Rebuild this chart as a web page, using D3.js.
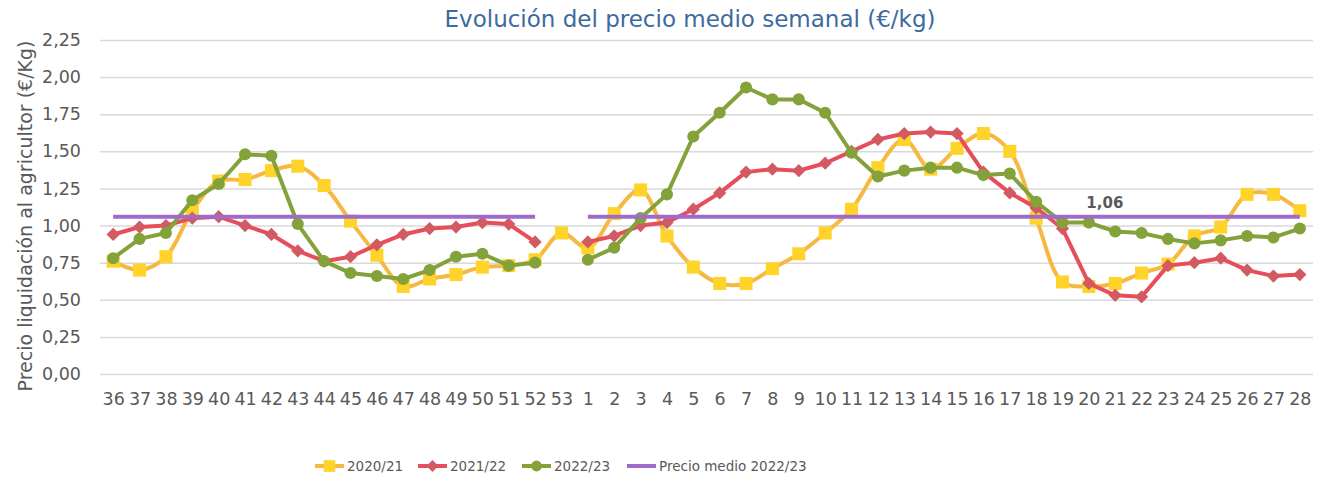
<!DOCTYPE html>
<html>
<head>
<meta charset="utf-8">
<script src="https://cdn.jsdelivr.net/npm/d3@7"></script>
<style>
  body { margin: 0; background: #fff; }
  text { font-family: "DejaVu Sans", sans-serif; }
</style>
</head>
<body>
<script>
var weeks = ["36","37","38","39","40","41","42","43","44","45","46","47","48","49","50","51","52","53",
    "1","2","3","4","5","6","7","8","9","10","11","12","13","14","15","16","17","18","19","20","21","22","23","24","25","26","27","28"];

var s2020 = [0.76,0.70,0.79,1.10,1.30,1.31,1.37,1.40,1.27,1.03,0.80,0.59,0.64,0.67,0.72,0.73,0.77,0.95,
    0.85,1.08,1.24,0.93,0.72,0.61,0.61,0.71,0.81,0.95,1.11,1.39,1.58,1.38,1.52,1.62,1.50,1.05,0.62,0.59,0.61,0.68,0.74,0.93,0.99,1.21,1.21,1.10];

var s2021 = [0.94,0.99,1.00,1.05,1.06,1.00,0.94,0.83,0.76,0.79,0.87,0.94,0.98,0.99,1.02,1.01,0.89,null,
    0.89,0.93,1.00,1.02,1.11,1.22,1.36,1.38,1.37,1.42,1.50,1.58,1.62,1.63,1.62,1.36,1.22,1.12,0.98,0.61,0.53,0.52,0.73,0.75,0.78,0.70,0.66,0.67];

var s2022 = [0.78,0.91,0.95,1.17,1.28,1.48,1.47,1.01,0.76,0.68,0.66,0.64,0.70,0.79,0.81,0.73,0.75,null,
    0.77,0.85,1.05,1.21,1.60,1.76,1.93,1.85,1.85,1.76,1.49,1.33,1.37,1.39,1.39,1.34,1.35,1.16,1.02,1.02,0.96,0.95,0.91,0.88,0.90,0.93,0.92,0.98];

var mean2022 = 1.06;

var yTicks = [0, 0.25, 0.5, 0.75, 1, 1.25, 1.5, 1.75, 2, 2.25];
var legendLabels = ["2020/21", "2021/22", "2022/23", "Precio medio 2022/23"];

var W = 1319, H = 479;
var margin = { top: 40, right: 6, bottom: 105, left: 100 },
    width = W - margin.left - margin.right,
    height = H - margin.top - margin.bottom;

var svg = d3.select("body")
    .append("svg")
    .attr("width", W)
    .attr("height", H);

var g = svg.append("g")
    .attr("transform", "translate(" + margin.left + "," + margin.top + ")");

var x = d3.scalePoint()
    .domain(weeks)
    .range([0, width])
    .padding(0.5);

var y = d3.scaleLinear()
    .domain([0, 2.25])
    .range([height, 0]);

var comma = function (v) { return d3.format(".2f")(v).replace(".", ","); };

// grid + y labels
var yAxis = g.append("g")
    .call(d3.axisLeft(y).tickValues(yTicks).tickSize(-width).tickPadding(19).tickFormat(comma));
yAxis.select(".domain").remove();
yAxis.selectAll("line").attr("stroke", "#d9d9d9").attr("stroke-width", 1.5);
yAxis.selectAll("text").attr("fill", "#595959").style("font-size", "17.5px");

// x labels
var xAxis = g.append("g")
    .attr("transform", "translate(0," + height + ")")
    .call(d3.axisBottom(x).tickSize(0).tickPadding(19));
xAxis.select(".domain").remove();
xAxis.selectAll("text").attr("fill", "#595959").style("font-size", "17.5px");

// title
svg.append("text")
    .attr("x", 690)
    .attr("y", 27)
    .attr("text-anchor", "middle")
    .attr("fill", "#3d6a9e")
    .style("font-size", "23px")
    .text("Evolución del precio medio semanal (€/kg)");

// y title
svg.append("text")
    .attr("transform", "translate(32,216)rotate(-90)")
    .attr("text-anchor", "middle")
    .attr("fill", "#595959")
    .style("font-size", "19px")
    .text("Precio liquidación al agricultor (€/Kg)");

var series = [
    { name: legendLabels[0], values: s2020, line: "#f5b942", fill: "#ffd32a", shape: d3.symbolSquare, size: 170, rot: 0, curve: d3.curveCatmullRom.alpha(0.5) },
    { name: legendLabels[1], values: s2021, line: "#e84d5b", fill: "#d25b63", shape: d3.symbolSquare, size: 88, rot: 45, curve: d3.curveLinear },
    { name: legendLabels[2], values: s2022, line: "#84a23a", fill: "#84a23a", shape: d3.symbolCircle, size: 115, rot: 0, curve: d3.curveLinear }
];

series.forEach(function (s) {
    var pts = weeks.map(function (w, i) { return { w: w, v: s.values[i] }; });
    var line = d3.line()
        .defined(function (d) { return d.v != null; })
        .x(function (d) { return x(d.w); })
        .y(function (d) { return y(d.v); })
        .curve(s.curve);
    var sg = g.append("g");
    sg.append("path")
        .datum(pts)
        .attr("d", line)
        .attr("fill", "none")
        .attr("stroke", s.line)
        .attr("stroke-width", 4)
        .attr("stroke-linejoin", "round");
    sg.selectAll("path.mk")
        .data(pts.filter(function (d) { return d.v != null; }))
        .enter()
        .append("path")
        .attr("class", "mk")
        .attr("transform", function (d) { return "translate(" + x(d.w) + "," + y(d.v) + ")rotate(" + s.rot + ")"; })
        .attr("d", d3.symbol().type(s.shape).size(s.size))
        .attr("fill", s.fill);
});

// mean line (two segments, gap at week 53)
var meanPts = weeks.map(function (w) { return { w: w, v: w === "53" ? null : mean2022 }; });
g.append("path")
    .datum(meanPts)
    .attr("d", d3.line()
        .defined(function (d) { return d.v != null; })
        .x(function (d) { return x(d.w); })
        .y(function (d) { return y(d.v); }))
    .attr("fill", "none")
    .attr("stroke", "#9e6bcb")
    .attr("stroke-width", 4);

g.append("text")
    .attr("x", x("20") + 16)
    .attr("y", y(mean2022) - 9)
    .attr("text-anchor", "middle")
    .attr("fill", "#595959")
    .style("font-size", "15px")
    .style("font-weight", "bold")
    .text(comma(mean2022));

// legend
var legX = [315, 418, 522, 627];
var lg = svg.append("g").attr("transform", "translate(0,466)");
legendLabels.forEach(function (name, i) {
    var it = lg.append("g").attr("transform", "translate(" + legX[i] + ",0)");
    var col = i < 3 ? series[i].line : "#9e6bcb";
    it.append("line").attr("x1", 0).attr("x2", 29).attr("stroke", col).attr("stroke-width", 4);
    if (i < 3) {
        it.append("path")
            .attr("transform", "translate(14.5,0)rotate(" + series[i].rot + ")")
            .attr("d", d3.symbol().type(series[i].shape).size(series[i].size * 0.8))
            .attr("fill", series[i].fill);
    }
    it.append("text")
        .attr("x", 32)
        .attr("y", 5)
        .attr("fill", "#595959")
        .style("font-size", "13.5px")
        .text(name);
});
</script>
</body>
</html>
